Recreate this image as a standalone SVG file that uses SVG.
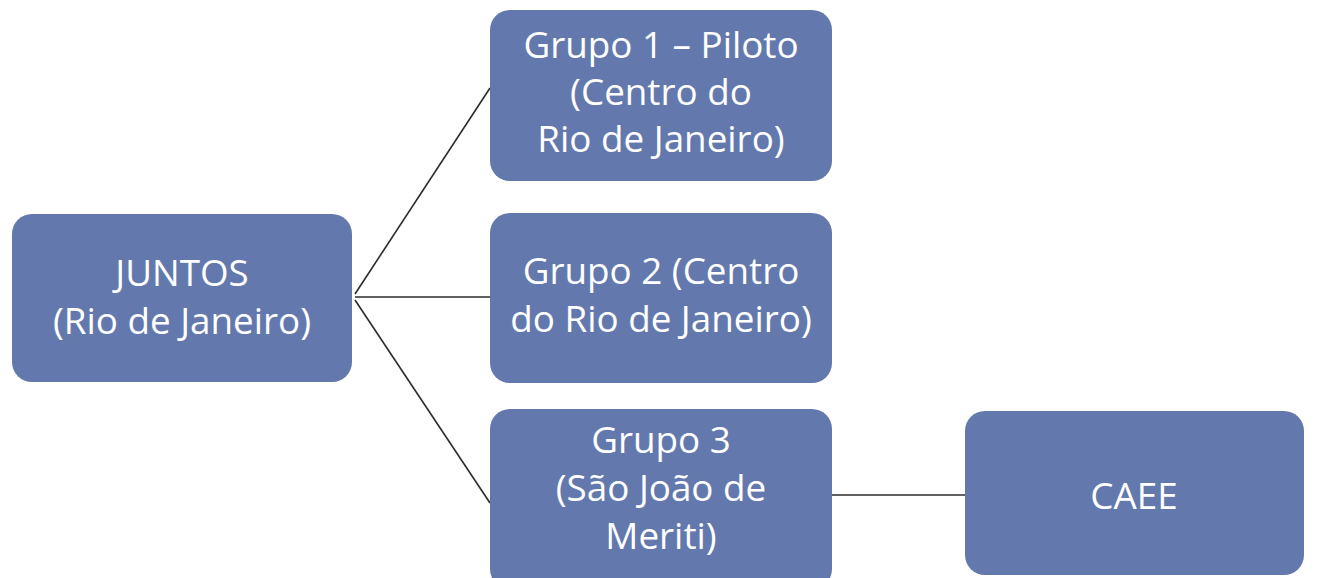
<svg xmlns="http://www.w3.org/2000/svg" width="1318" height="578" viewBox="0 0 1318 578">
<style>
.box{fill:#6379ad;}
.t{font-family:"Open Sans","Noto Sans",sans-serif;font-size:36.8px;fill:#ffffff;text-anchor:middle;}
.c{stroke:#2b2b2b;stroke-width:1.6;fill:none;}
</style>
<rect width="1318" height="578" fill="#ffffff"/>
<g id="connectors">
<line class="c" x1="355" y1="294" x2="490" y2="88"/>
<line class="c" x1="355" y1="297" x2="490" y2="297"/>
<line class="c" x1="355" y1="300" x2="490" y2="503"/>
<line class="c" x1="832" y1="495" x2="965" y2="495"/>
</g>
<g id="juntos">
<rect class="box" x="12" y="214" width="340" height="168" rx="20"/>
<text class="t" x="182" y="286">JUNTOS</text>
<text class="t" x="182" y="334">(Rio de Janeiro)</text>
</g>
<g id="grupo1">
<rect class="box" x="490" y="10" width="342" height="171" rx="20"/>
<text class="t" x="661" y="58">Grupo 1 – Piloto</text>
<text class="t" x="661" y="105">(Centro do</text>
<text class="t" x="661" y="152">Rio de Janeiro)</text>
</g>
<g id="grupo2">
<rect class="box" x="490" y="213" width="342" height="170" rx="20"/>
<text class="t" x="661" y="284">Grupo 2 (Centro</text>
<text class="t" x="661" y="332">do Rio de Janeiro)</text>
</g>
<g id="grupo3">
<rect class="box" x="490" y="409" width="342" height="180" rx="20"/>
<text class="t" x="661" y="453">Grupo 3</text>
<text class="t" x="661" y="501">(São João de</text>
<text class="t" x="661" y="549">Meriti)</text>
</g>
<g id="caee">
<rect class="box" x="965" y="411" width="339" height="164" rx="20"/>
<text class="t" x="1134" y="509">CAEE</text>
</g>
</svg>
